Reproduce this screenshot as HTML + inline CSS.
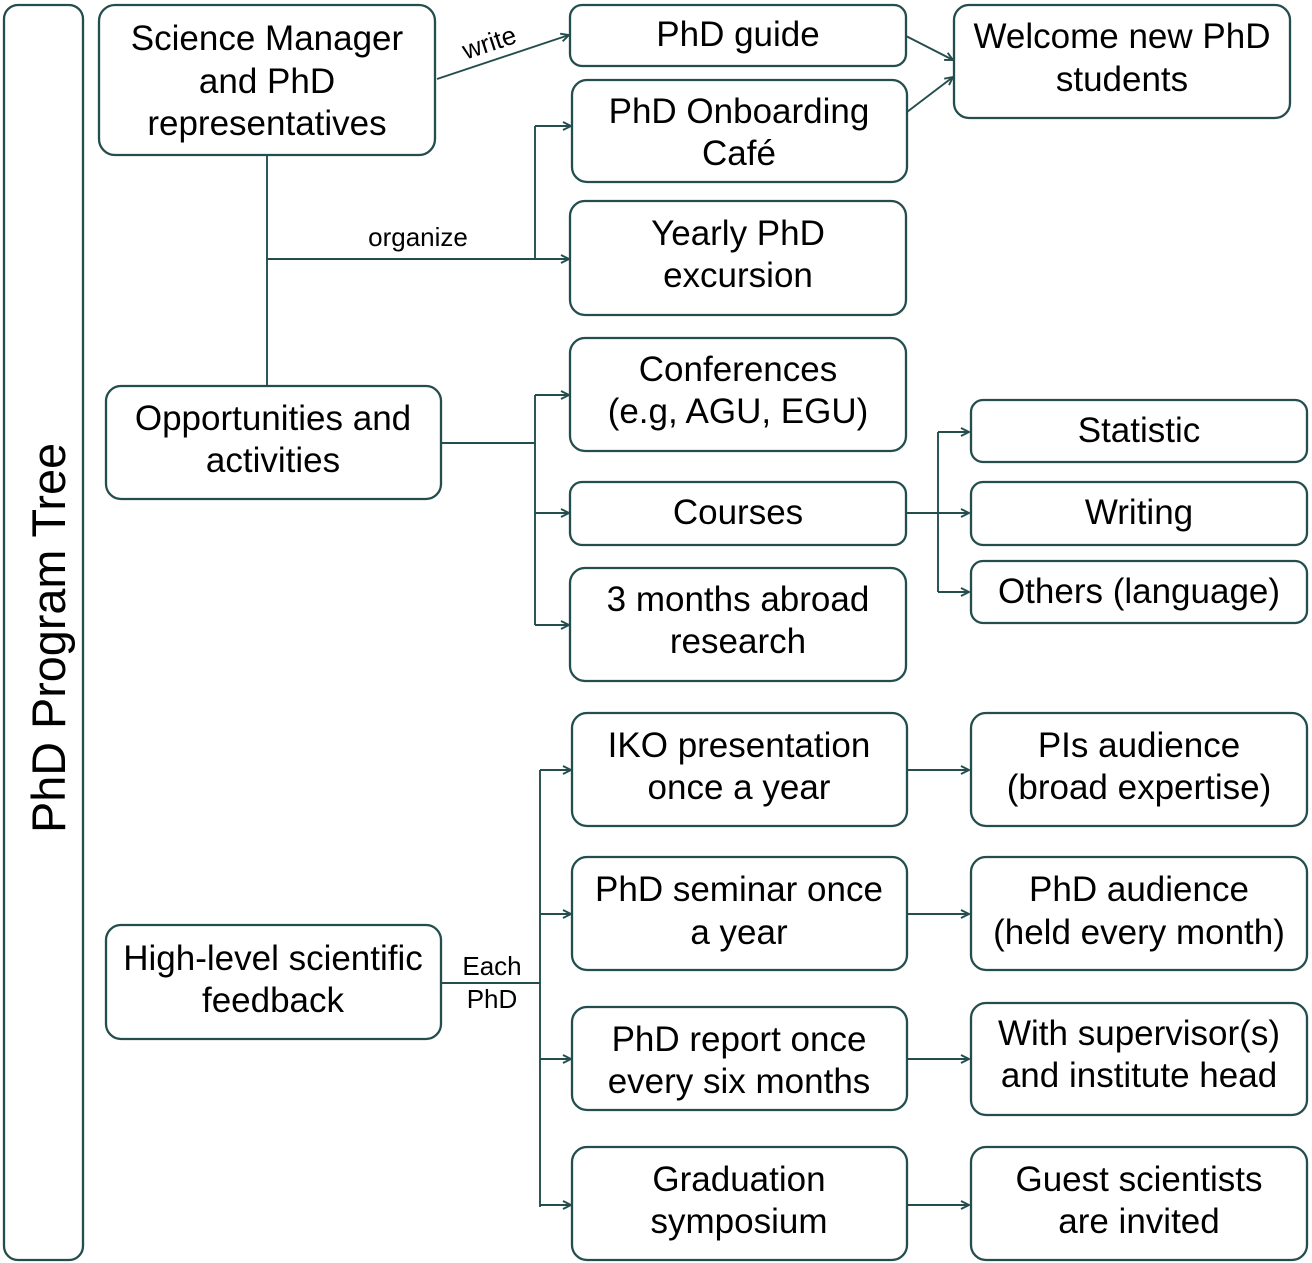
<!DOCTYPE html>
<html>
<head>
<meta charset="utf-8">
<style>
  html,body{margin:0;padding:0;background:#fff;}
  body{width:1312px;height:1263px;overflow:hidden;}
  svg{display:block;}
  text{font-family:"Liberation Sans", Arial, sans-serif;fill:#000;}
  .b{font-size:35px;text-anchor:middle;}
  .s{font-size:26px;text-anchor:middle;}
  .box{fill:#fff;stroke:#244e4e;stroke-width:2.3;}
  .ln{stroke:#244e4e;stroke-width:1.9;fill:none;}
</style>
</head>
<body>
<svg width="1312" height="1263" viewBox="0 0 1312 1263" xmlns="http://www.w3.org/2000/svg">
  <defs>
    <marker id="a" markerUnits="userSpaceOnUse" markerWidth="12" markerHeight="12" refX="9" refY="5" orient="auto">
      <path d="M1,1 L9,5 L1,9" fill="none" stroke="#244e4e" stroke-width="1.9"/>
    </marker>
  </defs>

  <!-- left bar -->
  <rect class="box" x="4" y="5" width="79" height="1255" rx="14"/>
  <text x="0" y="0" transform="translate(65,638) rotate(-90)" textLength="390" lengthAdjust="spacingAndGlyphs" style="font-size:47px;text-anchor:middle;">PhD Program Tree</text>

  <!-- connectors -->
  <line class="ln" x1="437" y1="79" x2="569" y2="35" marker-end="url(#a)"/>
  <line class="ln" x1="906" y1="36" x2="953" y2="60" marker-end="url(#a)"/>
  <line class="ln" x1="907" y1="112" x2="953" y2="77" marker-end="url(#a)"/>
  <line class="ln" x1="267" y1="155" x2="267" y2="386"/>
  <line class="ln" x1="267" y1="259" x2="569" y2="259" marker-end="url(#a)"/>
  <line class="ln" x1="535" y1="126" x2="535" y2="259"/>
  <line class="ln" x1="535" y1="126" x2="571" y2="126" marker-end="url(#a)"/>

  <line class="ln" x1="441" y1="443" x2="535" y2="443"/>
  <line class="ln" x1="535" y1="395" x2="535" y2="625"/>
  <line class="ln" x1="535" y1="395" x2="569" y2="395" marker-end="url(#a)"/>
  <line class="ln" x1="535" y1="513" x2="569" y2="513" marker-end="url(#a)"/>
  <line class="ln" x1="535" y1="625" x2="569" y2="625" marker-end="url(#a)"/>

  <line class="ln" x1="906" y1="513" x2="969" y2="513" marker-end="url(#a)"/>
  <line class="ln" x1="938" y1="432" x2="938" y2="592"/>
  <line class="ln" x1="938" y1="432" x2="969" y2="432" marker-end="url(#a)"/>
  <line class="ln" x1="938" y1="592" x2="969" y2="592" marker-end="url(#a)"/>

  <line class="ln" x1="441" y1="983" x2="540" y2="983"/>
  <line class="ln" x1="540" y1="770" x2="540" y2="1207"/>
  <line class="ln" x1="540" y1="770" x2="571" y2="770" marker-end="url(#a)"/>
  <line class="ln" x1="540" y1="914" x2="571" y2="914" marker-end="url(#a)"/>
  <line class="ln" x1="540" y1="1059" x2="571" y2="1059" marker-end="url(#a)"/>
  <line class="ln" x1="540" y1="1205" x2="571" y2="1205" marker-end="url(#a)"/>

  <line class="ln" x1="907" y1="770" x2="969" y2="770" marker-end="url(#a)"/>
  <line class="ln" x1="907" y1="914" x2="969" y2="914" marker-end="url(#a)"/>
  <line class="ln" x1="907" y1="1059" x2="969" y2="1059" marker-end="url(#a)"/>
  <line class="ln" x1="907" y1="1205" x2="969" y2="1205" marker-end="url(#a)"/>

  <!-- connector labels -->
  <text class="s" x="0" y="0" transform="translate(492,51) rotate(-18.3)">write</text>
  <text class="s" x="418" y="246">organize</text>
  <text class="s" x="492" y="975">Each</text>
  <text class="s" x="492" y="1008">PhD</text>

  <!-- boxes -->
  <rect class="box" x="99" y="5" width="336" height="150" rx="16"/>
  <text class="b" x="267" y="50">Science Manager</text>
  <text class="b" x="267" y="93">and PhD</text>
  <text class="b" x="267" y="135">representatives</text>

  <rect class="box" x="570" y="5" width="336" height="61" rx="12"/>
  <text class="b" x="738" y="46">PhD guide</text>

  <rect class="box" x="954" y="5" width="336" height="113" rx="15"/>
  <text class="b" x="1122" y="48">Welcome new PhD</text>
  <text class="b" x="1122" y="91">students</text>

  <rect class="box" x="572" y="80" width="335" height="102" rx="15"/>
  <text class="b" x="739" y="123">PhD Onboarding</text>
  <text class="b" x="739" y="165">Café</text>

  <rect class="box" x="570" y="201" width="336" height="114" rx="15"/>
  <text class="b" x="738" y="245">Yearly PhD</text>
  <text class="b" x="738" y="287">excursion</text>

  <rect class="box" x="106" y="386" width="335" height="113" rx="15"/>
  <text class="b" x="273" y="430">Opportunities and</text>
  <text class="b" x="273" y="472">activities</text>

  <rect class="box" x="570" y="338" width="336" height="113" rx="15"/>
  <text class="b" x="738" y="381">Conferences</text>
  <text class="b" x="738" y="423">(e.g, AGU, EGU)</text>

  <rect class="box" x="570" y="482" width="336" height="63" rx="12"/>
  <text class="b" x="738" y="524">Courses</text>

  <rect class="box" x="570" y="568" width="336" height="113" rx="15"/>
  <text class="b" x="738" y="611">3 months abroad</text>
  <text class="b" x="738" y="653">research</text>

  <rect class="box" x="971" y="400" width="336" height="62" rx="12"/>
  <text class="b" x="1139" y="442">Statistic</text>

  <rect class="box" x="971" y="482" width="336" height="63" rx="12"/>
  <text class="b" x="1139" y="524">Writing</text>

  <rect class="box" x="971" y="561" width="336" height="62" rx="12"/>
  <text class="b" x="1139" y="603">Others (language)</text>

  <rect class="box" x="572" y="713" width="335" height="113" rx="15"/>
  <text class="b" x="739" y="757">IKO presentation</text>
  <text class="b" x="739" y="799">once a year</text>

  <rect class="box" x="971" y="713" width="336" height="113" rx="15"/>
  <text class="b" x="1139" y="757">PIs audience</text>
  <text class="b" x="1139" y="799">(broad expertise)</text>

  <rect class="box" x="572" y="857" width="335" height="113" rx="15"/>
  <text class="b" x="739" y="901">PhD seminar once</text>
  <text class="b" x="739" y="944">a year</text>

  <rect class="box" x="971" y="857" width="336" height="113" rx="15"/>
  <text class="b" x="1139" y="901">PhD audience</text>
  <text class="b" x="1139" y="944">(held every month)</text>

  <rect class="box" x="106" y="925" width="335" height="114" rx="15"/>
  <text class="b" x="273" y="970">High-level scientific</text>
  <text class="b" x="273" y="1012">feedback</text>

  <rect class="box" x="572" y="1007" width="335" height="103" rx="15"/>
  <text class="b" x="739" y="1051">PhD report once</text>
  <text class="b" x="739" y="1093">every six months</text>

  <rect class="box" x="971" y="1003" width="336" height="112" rx="15"/>
  <text class="b" x="1139" y="1045">With supervisor(s)</text>
  <text class="b" x="1139" y="1087">and institute head</text>

  <rect class="box" x="572" y="1147" width="335" height="113" rx="15"/>
  <text class="b" x="739" y="1191">Graduation</text>
  <text class="b" x="739" y="1233">symposium</text>

  <rect class="box" x="971" y="1147" width="336" height="113" rx="15"/>
  <text class="b" x="1139" y="1191">Guest scientists</text>
  <text class="b" x="1139" y="1233">are invited</text>
</svg>
</body>
</html>
